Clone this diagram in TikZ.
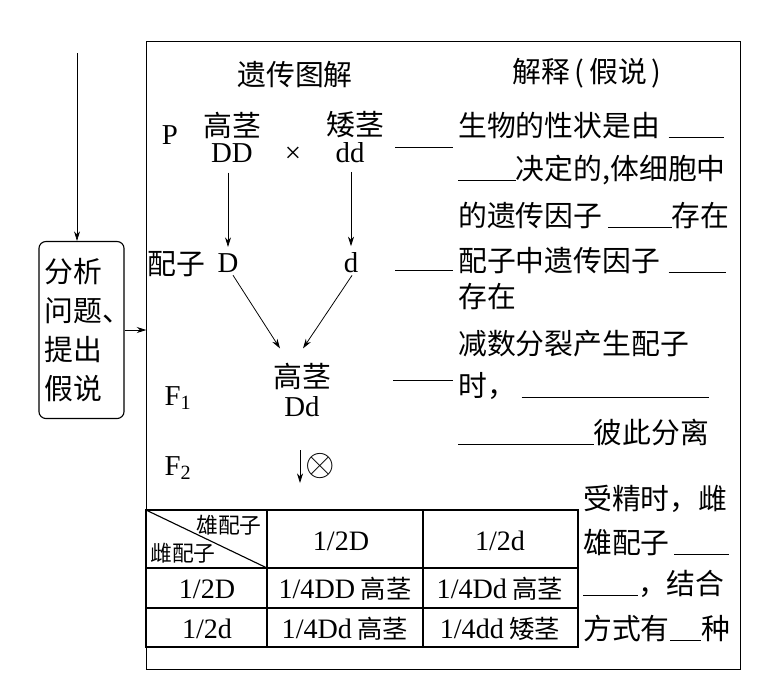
\documentclass[tikz,border=0pt]{standalone}
\usepackage{fontspec}
\setmainfont{Noto Sans CJK SC}
\newfontfamily\lat{Liberation Serif}
\usetikzlibrary{positioning,arrows.meta}
\newcommand\fillin[1]{\rule[-0.08em]{#1}{0.6pt}}
\newcommand\tablat[1]{{\lat\fontsize{20}{22}\selectfont #1}}
\tikzset{
  thinarrow/.style={-{Stealth[length=2.4mm,width=1.5mm]}, line width=0.55pt},
  framebox/.style={draw, line width=0.8pt, inner sep=0pt},
  hypobox/.style={draw, rounded corners=5pt, line width=0.8pt, align=left, text width=1.825cm, inner xsep=4.3pt, minimum height=4.425cm, font=\fontsize{20.5}{27.7}\selectfont},
  cjktext/.style={font=\fontsize{20.5}{24}\selectfont, inner sep=0pt},
  gtext/.style={font=\lat\fontsize{20.5}{24}\selectfont, inner sep=0pt},
  linetext/.style={cjktext, anchor=base west},
  tabtext/.style={font=\fontsize{18}{20}\selectfont, inner sep=0pt},
  smalltab/.style={font=\fontsize{15.5}{18}\selectfont, inner sep=0pt},
  link/.style={line width=0.6pt},
  tabline/.style={line width=0.8pt}
}

\begin{document}
\begin{tikzpicture}[x=0.025cm, y=-0.025cm]
  \useasboundingbox (0,0) rectangle (760,684);
  % frame and the hypothesis box
  \node[framebox, minimum width=14.825cm, minimum height=15.675cm] (frame) at (443.5,355.5) {};
  \node[hypobox] (hypo) at (81.5,330) {分析\\问题\rlap{、}\\提出\\假说};
  \coordinate (start) at (77,53);
  \draw[thinarrow] (start) -- (start |- hypo.north);
  \draw[thinarrow] (hypo.east) -- (hypo.east -| frame.west);

  % headings
  \node[cjktext] (diag) at (295,75) {遗传图解};
  \node[cjktext] (expl) at (587,73) {解释\,(\,假说\,)};

  % cross
  \node[gtext] (P) at (170,135) {P};
  \node[cjktext] (tallP) at (232,125) {高茎};
  \node[gtext] (DD) at (232,153) {DD};
  \node[gtext] (cross) at (293,155) {×};
  \node[cjktext] (dwarfP) at (355,125) {矮茎};
  \node[gtext] (dd) at (350,153) {dd};

  % gametes
  \node[cjktext] (gam) at (176,264) {配子};
  \node[gtext] (D) at (228,263) {D};
  \node[gtext] (d) at (351,263) {d};
  \draw[thinarrow, shorten <=7pt, shorten >=4.5pt] (D.north |- DD.south) -- (D.north);
  \draw[thinarrow, shorten <=6pt, shorten >=4.5pt] (d.north |- dd.south) -- (d.north);

  % F1 and F2
  \node[gtext] (F1) at (178,398) {F\textsubscript{1}};
  \node[cjktext] (tallF) at (302,376) {高茎};
  \node[gtext] (Dd) at (302,407) {Dd};
  \draw[thinarrow] ([shift={(5,2.5)}]D.south) -- ([shift={(-22,-14)}]tallF.north);
  \draw[thinarrow] ([shift={(1,2)}]d.south) -- ([shift={(1,-14)}]tallF.north);
  \node[gtext] (F2) at (178,468) {F\textsubscript{2}};
  \node[gtext, scale=1.3] (self) at (320,466) {$\otimes$};
  \coordinate (selftop) at (300,450);
  \draw[thinarrow] (selftop) -- ++(0,33);

  % links to the hypothesis text
  \coordinate (linkA) at (395,147);
  \coordinate (linkB) at (395,270);
  \coordinate (linkC) at (393,380);
  \draw[link] (linkA) -- ++(58,0);
  \draw[link] (linkB) -- ++(58,0);
  \draw[link] (linkC) -- ++(60,0);

  % hypothesis text
  \node[linetext] (hyp1) at (458,136) {生物的性状是由\hspace{0.3em}\fillin{1.9em}};
  \node[linetext] (hyp2) at (458,179) {\fillin{2em}决定的,体细胞中};
  \node[linetext] (hyp3) at (458,226) {的遗传因子\hspace{0.2em}\fillin{2.2em}存在};
  \node[linetext] (hyp4) at (458,271) {配子中遗传因子\hspace{0.3em}\fillin{2em}};
  \node[linetext] (hyp5) at (458,307) {存在};
  \node[linetext] (hyp6) at (458,354) {减数分裂产生配子};
  \node[linetext] (hyp7) at (458,396) {时，\hspace{0.2em}\fillin{6.5em}};
  \node[linetext] (hyp8) at (458,443) {\fillin{4.7em}彼此分离};
  \node[linetext] (fert1) at (583,509) {受精时，雌};
  \node[linetext] (fert2) at (583,553) {雄配子\hspace{0.15em}\fillin{1.9em}};
  \node[linetext] (fert3) at (583,594) {\fillin{1.9em}，结合};
  \node[linetext] (fert4) at (583,639) {方式有\fillin{1.1em}种};

  % Punnett table
  \draw[tabline] (146,510) rectangle (578,647);
  \draw[tabline] (146,568) -- (578,568);
  \draw[tabline] (146,608) -- (578,608);
  \draw[tabline] (267,510) -- (267,647);
  \draw[tabline] (423,510) -- (423,647);
  \draw[tabline] (146,510) -- (267,568);
  \node[smalltab] (male) at (229,525) {雄配子};
  \node[smalltab] (female) at (183,553) {雌配子};
  \node[tabtext] (mD) at (341,541) {\tablat{1/2D}};
  \node[tabtext] (md) at (500,541) {\tablat{1/2d}};
  \node[tabtext] (fD) at (207,589) {\tablat{1/2D}};
  \node[tabtext] (DDc) at (345,589) {\tablat{1/4DD} 高茎};
  \node[tabtext] (Ddc) at (500,589) {\tablat{1/4Dd} 高茎};
  \node[tabtext] (fd) at (207,629) {\tablat{1/2d}};
  \node[tabtext] (dDc) at (345,629) {\tablat{1/4Dd} 高茎};
  \node[tabtext] (ddc) at (500,629) {\tablat{1/4dd} 矮茎};
\end{tikzpicture}
\end{document}
